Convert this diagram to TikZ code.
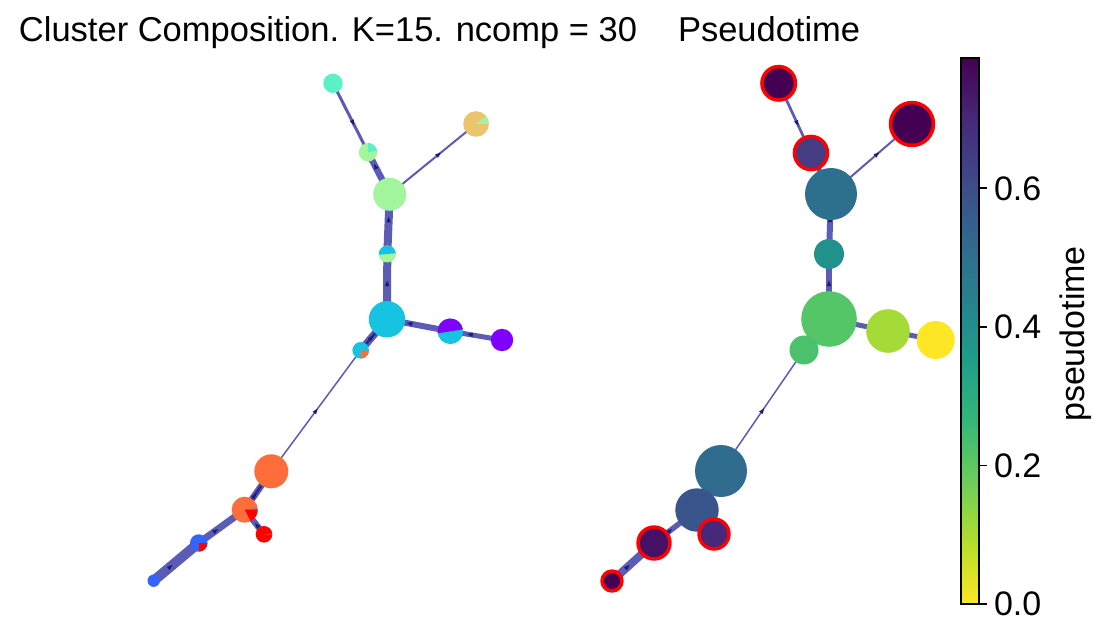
\documentclass[tikz,border=0pt]{standalone}
\usepackage{fontspec}
\setmainfont{Liberation Sans}
\usetikzlibrary{arrows.meta,decorations.markings}
\pgfdeclarelayer{bg}
\pgfsetlayers{bg,main}
\definecolor{edgec}{RGB}{92,92,182}
\definecolor{edgedark}{RGB}{40,40,150}
\definecolor{arrc}{RGB}{28,28,120}
\definecolor{caqua}{RGB}{90,240,200}
\definecolor{cgreen}{RGB}{162,244,157}
\definecolor{cgold}{RGB}{235,196,110}
\definecolor{ccyan}{RGB}{22,196,226}
\definecolor{cpurple}{RGB}{128,0,255}
\definecolor{corange}{RGB}{255,110,58}
\definecolor{cred}{RGB}{255,0,0}
\definecolor{cblue}{RGB}{52,100,252}
\definecolor{v0}{HTML}{440154}
\definecolor{v1}{HTML}{482878}
\definecolor{v2}{HTML}{3E4989}
\definecolor{v3}{HTML}{31688E}
\definecolor{v4}{HTML}{26828E}
\definecolor{v5}{HTML}{1F9E89}
\definecolor{v6}{HTML}{35B779}
\definecolor{v7}{HTML}{6ECE58}
\definecolor{v8}{HTML}{B5DE2B}
\definecolor{v9}{HTML}{FDE725}
\newcommand\mywedge[5]{\fill[#5] (#1.center) -- ++(#3:#2) arc[start angle=#3, end angle=#4, radius=#2] -- cycle;}
\tikzset{
  every node/.style={inner sep=0pt, outer sep=0pt},
  pn/.style={circle, minimum size=#1},
  rn/.style={circle, minimum size=#1, draw=red, line width=3.5pt},
  en/.style={draw=edgec, line width=#1, line cap=butt},
  inner/.style={draw=edgedark, line width=2.5pt},
  arr/.style={postaction={decorate}, decoration={markings, mark=at position #1 with {\fill[arrc] (2.8pt,0pt) -- (-2.8pt,2.2pt) -- (-2.8pt,-2.2pt) -- cycle;}}},
  bigtxt/.style={font=\fontsize{34}{40}\selectfont},
  titletxt/.style={font=\fontsize{34.5}{40}\selectfont},
}
\begin{document}
\begin{tikzpicture}[x=1pt,y=-1pt]
\path[use as bounding box] (0,0) rectangle (1106,644);
\begin{pgfonlayer}{bg}
\fill[white] (0,0) rectangle (1106,644);
\end{pgfonlayer}

% titles
\node[titletxt, anchor=base west] (t1) at (19,42) {Cluster Composition. K=15. ncomp = 30};
\node[titletxt, anchor=base west] (t2) at (678,42) {Pseudotime};

% ---------- left graph ----------
\node[pn=19.4pt, fill=caqua] (L1) at (333,83.3) {};
\node[pn=18.4pt, fill=cgreen] (L2) at (368,152.3) {};
\mywedge{L2}{9.2pt}{11}{90}{caqua}
\node[pn=33pt, fill=cgreen] (L3) at (389.7,194.3) {};
\node[pn=25.6pt, fill=cgold] (L4) at (476,124) {};
\mywedge{L4}{12.8pt}{0}{38}{cgreen}
\node[pn=17pt, fill=cgreen] (L5) at (387.3,254) {};
\mywedge{L5}{8.5pt}{5}{185}{ccyan}
\node[pn=36.4pt, fill=ccyan] (L6) at (387,319.3) {};
\node[pn=25.6pt, fill=ccyan] (L7) at (450.3,331.3) {};
\mywedge{L7}{12.8pt}{9}{189}{cpurple}
\node[pn=22.4pt, fill=cpurple] (L8) at (502,340) {};
\node[pn=16.6pt, fill=ccyan] (L9) at (360.7,350.3) {};
\mywedge{L9}{8.3pt}{275}{355}{corange}
\node[pn=34pt, fill=corange] (L10) at (271.3,471.3) {};
\node[pn=26pt, fill=corange] (L11) at (244.7,509.7) {};
\mywedge{L11}{13pt}{-62}{0}{cred}
\mywedge{L11}{13pt}{0}{6}{cblue}
\node[pn=16.6pt, fill=cred] (L12) at (264,534.3) {};
\mywedge{L12}{8.3pt}{0}{4}{corange}
\node[pn=17.4pt, fill=cblue] (L13) at (198.7,543) {};
\mywedge{L13}{8.7pt}{-85}{0}{cred}
\node[pn=12.4pt, fill=cblue] (L14) at (153.7,580.7) {};

\begin{pgfonlayer}{bg}
\draw[en=3pt, arr=0.574] (L1.center) -- (L2.center);
\draw[en=6.5pt, arr=0.666] (L3.center) -- (L2.center);
\draw[en=2pt, arr=0.57] (L3.center) -- (L4.center);
\draw[en=8pt, arr=0.578] (L5.center) -- (L3.center);
\draw[en=8pt, arr=0.55] (L6.center) -- (L5.center);
\draw[en=6pt, arr=0.644] (L7.center) -- (L6.center);
\draw[en=5pt, arr=0.62] (L8.center) -- (L7.center);
\draw[en=7.5pt] (L9.center) -- (L6.center);
\draw[inner, arr=0.41] (L9.center) -- (L6.center);
\draw[en=1.5pt, arr=0.5] (L10.center) -- (L9.center);
\draw[en=6.5pt] (L11.center) -- (L10.center);
\draw[inner, arr=0.375] (L11.center) -- (L10.center);
\draw[en=6pt, arr=0.37] (L12.center) -- (L11.center);
\draw[en=7pt, arr=0.37] (L13.center) -- (L11.center);
\draw[en=10pt, arr=0.37] (L14.center) -- (L13.center);
\end{pgfonlayer}

% ---------- right graph ----------
\node[rn=33.5pt, fill=v0] (R1) at (778.7,83.3) {};
\node[rn=33.1pt, fill={rgb,255:red,68;green,61;blue,132}] (R2) at (811,153) {};
\node[rn=42.9pt, fill=v0] (R3) at (912,124) {};
\node[pn=52pt, fill={rgb,255:red,45;green,112;blue,142}] (R4) at (831,194) {};
\node[pn=30pt, fill={rgb,255:red,33;green,145;blue,140}] (R5) at (829,254) {};
\node[pn=55.6pt, fill={rgb,255:red,85;green,198;blue,103}] (R6) at (829,319) {};
\node[pn=43.6pt, fill={rgb,255:red,165;green,219;blue,54}] (R7) at (888,331) {};
\node[pn=38pt, fill={rgb,255:red,253;green,231;blue,37}] (R8) at (935.7,340) {};
\node[pn=29pt, fill={rgb,255:red,74;green,193;blue,109}] (R9) at (804,350) {};
\node[pn=52pt, fill={rgb,255:red,47;green,108;blue,142}] (R10) at (721,471) {};
\node[pn=43.4pt, fill={rgb,255:red,58;green,84;blue,140}] (R11) at (697,510) {};
\node[rn=29.9pt, fill={rgb,255:red,72;green,40;blue,120}] (R12) at (714,534) {};
\node[rn=31.9pt, fill={rgb,255:red,70;green,16;blue,100}] (R13) at (654,543) {};
\node[rn=19.9pt, fill=v0] (R14) at (612,581) {};

\begin{pgfonlayer}{bg}
\draw[en=2.7pt, arr=0.574] (R1.center) -- (R2.center);
\draw[en=5pt, arr=0.666] (R4.center) -- (R2.center);
\draw[en=2pt, arr=0.57] (R4.center) -- (R3.center);
\draw[en=6pt, arr=0.578] (R5.center) -- (R4.center);
\draw[en=5.5pt, arr=0.55] (R6.center) -- (R5.center);
\draw[en=5pt, arr=0.644] (R7.center) -- (R6.center);
\draw[en=5pt, arr=0.62] (R8.center) -- (R7.center);
\draw[en=6pt, arr=0.41] (R9.center) -- (R6.center);
\draw[en=1.5pt, arr=0.5] (R10.center) -- (R9.center);
\draw[en=6pt, arr=0.375] (R11.center) -- (R10.center);
\draw[en=6pt, arr=0.37] (R12.center) -- (R11.center);
\draw[en=5.5pt, arr=0.37] (R13.center) -- (R11.center);
\draw[en=8pt, arr=0.37] (R14.center) -- (R13.center);
\end{pgfonlayer}

% ---------- colorbar ----------
\foreach \i/\ca/\cb in {0/v9/v8,1/v8/v7,2/v7/v6,3/v6/v5,4/v5/v4,5/v4/v3,6/v3/v2,7/v2/v1,8/v1/v0}{
  \shade[bottom color=\ca, top color=\cb] (961,{604-\i*60.67+0.4}) rectangle (979,{604-(\i+1)*60.67-0.4});
}
\draw[line width=2pt] (961,58) rectangle (979,604);
\foreach \v/\y in {0.0/604,0.2/465.4,0.4/326.9,0.6/188.3}{
  \draw[line width=1.8pt] (979,\y) -- (987,\y);
  \node[bigtxt, anchor=west] at (994,\y) {\v};
}
\node[bigtxt, anchor=base, rotate=90] (cbl) at (1084,334) {pseudotime};
\end{tikzpicture}
\end{document}
